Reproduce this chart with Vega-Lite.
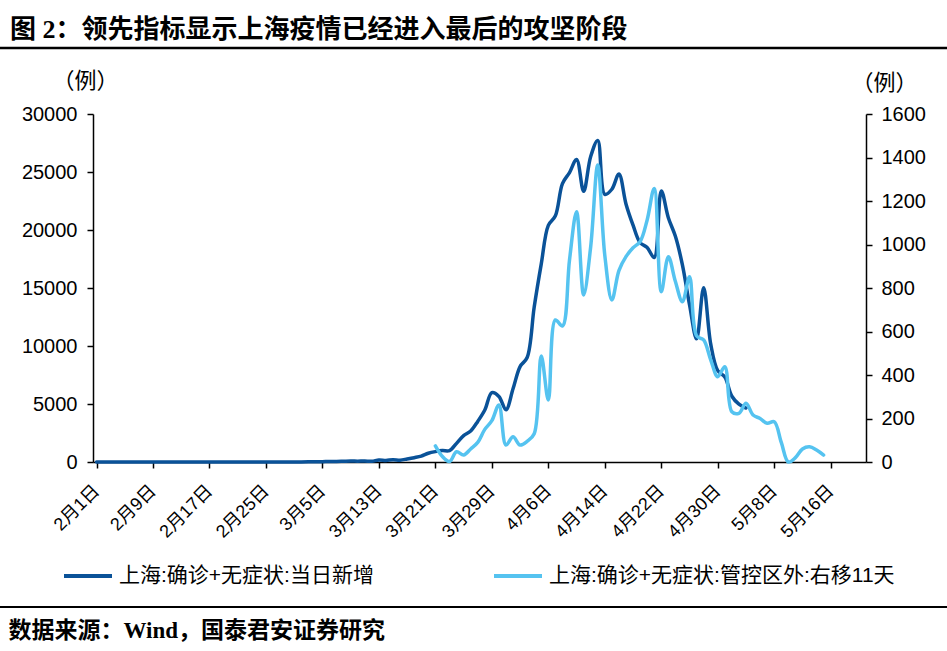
{
  "$schema": "https://vega.github.io/schema/vega-lite/v6.json",
  "width": 773,
  "height": 348,
  "autosize": {"type": "none"},
  "padding": {"left": 93, "top": 114, "right": 81, "bottom": 189},
  "background": "white",
  "config": {"view": {"stroke": null}, "font": "Liberation Sans, Noto Sans CJK SC"},
  "title": {
    "text": "图 2：领先指标显示上海疫情已经进入最后的攻坚阶段",
    "anchor": "start",
    "frame": "group",
    "dx": -83,
    "offset": 4,
    "fontSize": 26,
    "fontWeight": "bold",
    "font": "Liberation Serif, Noto Sans CJK SC",
    "color": "black"
  },
  "datasets": {
    "daily": [
      {"date": "2022-02-01", "cases": 0}, {"date": "2022-02-02", "cases": 0}, {"date": "2022-02-03", "cases": 0}, {"date": "2022-02-04", "cases": 1},
      {"date": "2022-02-05", "cases": 0}, {"date": "2022-02-06", "cases": 0}, {"date": "2022-02-07", "cases": 0}, {"date": "2022-02-08", "cases": 0},
      {"date": "2022-02-09", "cases": 0}, {"date": "2022-02-10", "cases": 0}, {"date": "2022-02-11", "cases": 0}, {"date": "2022-02-12", "cases": 0},
      {"date": "2022-02-13", "cases": 0}, {"date": "2022-02-14", "cases": 0}, {"date": "2022-02-15", "cases": 0}, {"date": "2022-02-16", "cases": 0},
      {"date": "2022-02-17", "cases": 0}, {"date": "2022-02-18", "cases": 0}, {"date": "2022-02-19", "cases": 0}, {"date": "2022-02-20", "cases": 1},
      {"date": "2022-02-21", "cases": 0}, {"date": "2022-02-22", "cases": 0}, {"date": "2022-02-23", "cases": 0}, {"date": "2022-02-24", "cases": 0},
      {"date": "2022-02-25", "cases": 0}, {"date": "2022-02-26", "cases": 1}, {"date": "2022-02-27", "cases": 2}, {"date": "2022-02-28", "cases": 3},
      {"date": "2022-03-01", "cases": 3}, {"date": "2022-03-02", "cases": 9}, {"date": "2022-03-03", "cases": 16}, {"date": "2022-03-04", "cases": 19},
      {"date": "2022-03-05", "cases": 30}, {"date": "2022-03-06", "cases": 48}, {"date": "2022-03-07", "cases": 51}, {"date": "2022-03-08", "cases": 65},
      {"date": "2022-03-09", "cases": 79}, {"date": "2022-03-10", "cases": 75}, {"date": "2022-03-11", "cases": 83}, {"date": "2022-03-12", "cases": 65},
      {"date": "2022-03-13", "cases": 169}, {"date": "2022-03-14", "cases": 139}, {"date": "2022-03-15", "cases": 202}, {"date": "2022-03-16", "cases": 158},
      {"date": "2022-03-17", "cases": 260}, {"date": "2022-03-18", "cases": 374}, {"date": "2022-03-19", "cases": 509}, {"date": "2022-03-20", "cases": 758},
      {"date": "2022-03-21", "cases": 896}, {"date": "2022-03-22", "cases": 981}, {"date": "2022-03-23", "cases": 983}, {"date": "2022-03-24", "cases": 1609},
      {"date": "2022-03-25", "cases": 2269}, {"date": "2022-03-26", "cases": 2678}, {"date": "2022-03-27", "cases": 3500}, {"date": "2022-03-28", "cases": 4477},
      {"date": "2022-03-29", "cases": 5982}, {"date": "2022-03-30", "cases": 5653}, {"date": "2022-03-31", "cases": 4502}, {"date": "2022-04-01", "cases": 6311},
      {"date": "2022-04-02", "cases": 8226}, {"date": "2022-04-03", "cases": 9006}, {"date": "2022-04-04", "cases": 13354}, {"date": "2022-04-05", "cases": 17077},
      {"date": "2022-04-06", "cases": 20398}, {"date": "2022-04-07", "cases": 21222}, {"date": "2022-04-08", "cases": 24001}, {"date": "2022-04-09", "cases": 24944},
      {"date": "2022-04-10", "cases": 26087}, {"date": "2022-04-11", "cases": 23342}, {"date": "2022-04-12", "cases": 26330}, {"date": "2022-04-13", "cases": 27719},
      {"date": "2022-04-14", "cases": 23072}, {"date": "2022-04-15", "cases": 23513}, {"date": "2022-04-16", "cases": 24820}, {"date": "2022-04-17", "cases": 22248},
      {"date": "2022-04-18", "cases": 20416}, {"date": "2022-04-19", "cases": 18901}, {"date": "2022-04-20", "cases": 18495}, {"date": "2022-04-21", "cases": 17629},
      {"date": "2022-04-22", "cases": 23370}, {"date": "2022-04-23", "cases": 21058}, {"date": "2022-04-24", "cases": 19455}, {"date": "2022-04-25", "cases": 16980},
      {"date": "2022-04-26", "cases": 13562}, {"date": "2022-04-27", "cases": 10622}, {"date": "2022-04-28", "cases": 15032}, {"date": "2022-04-29", "cases": 10181},
      {"date": "2022-04-30", "cases": 7872}, {"date": "2022-05-01", "cases": 7333}, {"date": "2022-05-02", "cases": 5669}, {"date": "2022-05-03", "cases": 4982},
      {"date": "2022-05-04", "cases": 4651}
    ],
    "outside": [
      {"date": "2022-03-21", "cases": 74}, {"date": "2022-03-22", "cases": 25}, {"date": "2022-03-23", "cases": 2}, {"date": "2022-03-24", "cases": 47},
      {"date": "2022-03-25", "cases": 32}, {"date": "2022-03-26", "cases": 60}, {"date": "2022-03-27", "cases": 90}, {"date": "2022-03-28", "cases": 150},
      {"date": "2022-03-29", "cases": 190}, {"date": "2022-03-30", "cases": 262}, {"date": "2022-03-31", "cases": 78}, {"date": "2022-04-01", "cases": 116},
      {"date": "2022-04-02", "cases": 78}, {"date": "2022-04-03", "cases": 95}, {"date": "2022-04-04", "cases": 130}, {"date": "2022-04-05", "cases": 487},
      {"date": "2022-04-06", "cases": 285}, {"date": "2022-04-07", "cases": 653}, {"date": "2022-04-08", "cases": 625}, {"date": "2022-04-09", "cases": 929},
      {"date": "2022-04-10", "cases": 1151}, {"date": "2022-04-11", "cases": 768}, {"date": "2022-04-12", "cases": 990}, {"date": "2022-04-13", "cases": 1366},
      {"date": "2022-04-14", "cases": 950}, {"date": "2022-04-15", "cases": 745}, {"date": "2022-04-16", "cases": 880}, {"date": "2022-04-17", "cases": 944},
      {"date": "2022-04-18", "cases": 985}, {"date": "2022-04-19", "cases": 1013}, {"date": "2022-04-20", "cases": 1113}, {"date": "2022-04-21", "cases": 1258},
      {"date": "2022-04-22", "cases": 783}, {"date": "2022-04-23", "cases": 944}, {"date": "2022-04-24", "cases": 830}, {"date": "2022-04-25", "cases": 737},
      {"date": "2022-04-26", "cases": 852}, {"date": "2022-04-27", "cases": 580}, {"date": "2022-04-28", "cases": 561}, {"date": "2022-04-29", "cases": 470},
      {"date": "2022-04-30", "cases": 392}, {"date": "2022-05-01", "cases": 438}, {"date": "2022-05-02", "cases": 231}, {"date": "2022-05-03", "cases": 224},
      {"date": "2022-05-04", "cases": 270}, {"date": "2022-05-05", "cases": 216}, {"date": "2022-05-06", "cases": 200}, {"date": "2022-05-07", "cases": 178},
      {"date": "2022-05-08", "cases": 185}, {"date": "2022-05-09", "cases": 90}, {"date": "2022-05-10", "cases": 0}, {"date": "2022-05-11", "cases": 20},
      {"date": "2022-05-12", "cases": 60}, {"date": "2022-05-13", "cases": 70}, {"date": "2022-05-14", "cases": 55}, {"date": "2022-05-15", "cases": 32}
    ]
  },
  "layer": [
    {
      "data": {"name": "daily"},
      "mark": {"type": "line", "interpolate": "catmull-rom", "strokeWidth": 3.5, "strokeCap": "round"},
      "encoding": {
        "x": {
          "field": "date", "type": "temporal",
          "scale": {"type": "utc", "domain": [{"year": 2022, "month": 1, "date": 31, "hours": 12, "utc": true}, {"year": 2022, "month": 5, "date": 21, "utc": true}]},
          "axis": {
            "values": [
              {"year": 2022, "month": 2, "date": 1, "utc": true}, {"year": 2022, "month": 2, "date": 9, "utc": true},
              {"year": 2022, "month": 2, "date": 17, "utc": true}, {"year": 2022, "month": 2, "date": 25, "utc": true},
              {"year": 2022, "month": 3, "date": 5, "utc": true}, {"year": 2022, "month": 3, "date": 13, "utc": true},
              {"year": 2022, "month": 3, "date": 21, "utc": true}, {"year": 2022, "month": 3, "date": 29, "utc": true},
              {"year": 2022, "month": 4, "date": 6, "utc": true}, {"year": 2022, "month": 4, "date": 14, "utc": true},
              {"year": 2022, "month": 4, "date": 22, "utc": true}, {"year": 2022, "month": 4, "date": 30, "utc": true},
              {"year": 2022, "month": 5, "date": 8, "utc": true}, {"year": 2022, "month": 5, "date": 16, "utc": true}
            ],
            "format": "%-m月%-d日",
            "grid": false,
            "domainColor": "black", "domainWidth": 1.5,
            "tickColor": "black", "tickSize": 6, "tickWidth": 1.5,
            "labelAngle": -45, "labelAlign": "right", "labelBaseline": "middle",
            "labelFontSize": 18, "labelColor": "black", "labelPadding": 20, "labelOverlap": false,
            "labelFont": "Liberation Sans, Noto Sans CJK SC",
            "title": "数据来源：Wind，国泰君安证券研究",
            "titleFont": "Liberation Serif, Noto Sans CJK SC",
            "titleFontSize": 23, "titleFontWeight": "bold", "titleColor": "black",
            "titleAnchor": "start", "titleAlign": "left", "titleBaseline": "middle",
            "titleX": -85, "titleY": 168
          }
        },
        "y": {
          "field": "cases", "type": "quantitative",
          "scale": {"domain": [0, 30000]},
          "axis": {
            "orient": "left",
            "values": [0, 5000, 10000, 15000, 20000, 25000, 30000],
            "format": "d",
            "grid": false,
            "domainColor": "black", "domainWidth": 1.5,
            "tickColor": "black", "tickSize": 6, "tickWidth": 1.5,
            "labelFontSize": 20, "labelColor": "black", "labelPadding": 10,
            "title": "（例）", "titleAngle": 0, "titleFontSize": 22, "titleFontWeight": "normal", "titleColor": "black",
            "titleAlign": "center", "titleBaseline": "middle", "titleX": -8, "titleY": -34
          }
        },
        "color": {
          "datum": "上海:确诊+无症状:当日新增",
          "type": "nominal",
          "scale": {"domain": ["上海:确诊+无症状:当日新增", "上海:确诊+无症状:管控区外:右移11天"], "range": ["#0A5298", "#55C3F0"]},
          "legend": {
            "orient": "none", "legendX": -31, "legendY": 436,
            "direction": "horizontal", "title": null,
            "symbolType": "stroke", "symbolSize": 2304, "symbolStrokeWidth": 4,
            "labelFontSize": 21, "labelColor": "black", "labelLimit": 600, "labelOffset": 5,
            "columnPadding": 112
          }
        }
      }
    },
    {
      "data": {"name": "outside"},
      "mark": {"type": "line", "interpolate": "catmull-rom", "strokeWidth": 3.5, "strokeCap": "round"},
      "encoding": {
        "x": {"field": "date", "type": "temporal"},
        "y": {
          "field": "cases", "type": "quantitative",
          "scale": {"domain": [0, 1600]},
          "axis": {
            "orient": "right",
            "values": [0, 200, 400, 600, 800, 1000, 1200, 1400, 1600],
            "format": "d",
            "grid": false,
            "domainColor": "black", "domainWidth": 1.5,
            "tickColor": "black", "tickSize": 6, "tickWidth": 1.5,
            "labelFontSize": 20, "labelColor": "black", "labelPadding": 9,
            "title": "（例）", "titleAngle": 0, "titleFontSize": 22, "titleFontWeight": "normal", "titleColor": "black",
            "titleAlign": "center", "titleBaseline": "middle", "titleX": 18, "titleY": -32
          }
        },
        "color": {"datum": "上海:确诊+无症状:管控区外:右移11天", "type": "nominal"}
      }
    },
    {
      "data": {"values": [{"line": "top"}]},
      "mark": {"type": "rule", "color": "black", "strokeWidth": 2.5},
      "encoding": {"x": {"value": -93}, "x2": {"value": 854}, "y": {"value": -66}}
    },
    {
      "data": {"values": [{"line": "bottom"}]},
      "mark": {"type": "rule", "color": "black", "strokeWidth": 2},
      "encoding": {"x": {"value": -93}, "x2": {"value": 854}, "y": {"value": 493}}
    }
  ],
  "resolve": {"scale": {"y": "independent"}}
}
